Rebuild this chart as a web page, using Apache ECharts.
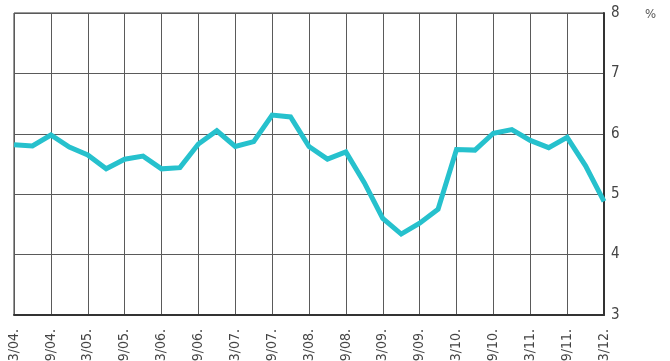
<!DOCTYPE html>
<html>
<head>
<meta charset="utf-8">
<script src="https://cdn.jsdelivr.net/npm/echarts@6/dist/echarts.min.js"></script>
<style>
  html, body { margin: 0; padding: 0; background: #fff; }
  #chart { width: 670px; height: 361px; }
</style>
</head>
<body>
<div id="chart"></div>
<script>
// quarterly points, labelled every half year
const categories = [
  '03/04.', '06/04.', '09/04.', '12/04.',
  '03/05.', '06/05.', '09/05.', '12/05.',
  '03/06.', '06/06.', '09/06.', '12/06.',
  '03/07.', '06/07.', '09/07.', '12/07.',
  '03/08.', '06/08.', '09/08.', '12/08.',
  '03/09.', '06/09.', '09/09.', '12/09.',
  '03/10.', '06/10.', '09/10.', '12/10.',
  '03/11.', '06/11.', '09/11.', '12/11.',
  '03/12.'
]
const rate = [
  5.82, 5.80, 5.98, 5.78, 5.65, 5.42, 5.58, 5.63,
  5.42, 5.44, 5.83, 6.05, 5.79, 5.87, 6.31, 6.28,
  5.79, 5.58, 5.70, 5.19, 4.60, 4.34, 4.52, 4.75,
  5.74, 5.73, 6.01, 6.07, 5.89, 5.77, 5.94, 5.47,
  4.88
]
const yTicks = { min: 3, max: 8, step: 1 }

const font = '"Liberation Sans Narrow", "DejaVu Sans Condensed", "Roboto", sans-serif'

let chart = echarts.init(document.getElementById('chart'))
chart.setOption({
  animation: false,
  title: {
    text: '%',
    left: 640,
    top: 3,
    textStyle: { fontFamily: font, fontSize: 13, fontWeight: 'normal', color: '#555' }
  },
  grid: {
    left: 14,
    right: 66,
    top: 13,
    bottom: 46,
    containLabel: false,
    outerBoundsMode: 'none',
    show: true,
    borderColor: '#333',
    borderWidth: 1
  },
  xAxis: {
    type: 'category',
    data: categories,
    boundaryGap: false,
    axisLine: { lineStyle: { color: '#333', width: 2 } },
    axisTick: { show: false },
    axisLabel: {
      interval: 1,
      rotate: 90,
      margin: 14,
      fontFamily: font,
      fontSize: 14,
      color: '#444'
    },
    splitLine: {
      show: true,
      interval: 1,
      lineStyle: { color: '#5a5a5a', width: 1 }
    }
  },
  yAxis: {
    type: 'value',
    position: 'right',
    min: yTicks.min,
    max: yTicks.max,
    interval: yTicks.step,
    axisLine: { show: true, lineStyle: { color: '#333', width: 2 } },
    axisTick: { show: false },
    axisLabel: {
      margin: 7,
      fontFamily: font,
      fontSize: 15,
      color: '#444'
    },
    splitLine: { lineStyle: { color: '#5a5a5a', width: 1 } }
  },
  series: [{
    type: 'line',
    data: rate,
    symbol: 'none',
    lineStyle: { color: '#26c1cd', width: 5, join: 'miter' }
  }]
})
</script>
</body>
</html>
